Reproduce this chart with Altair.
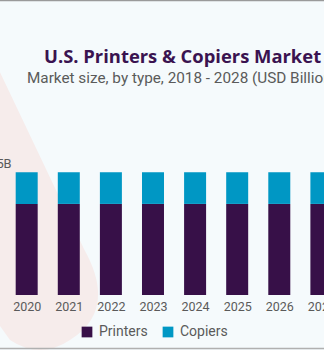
import altair as alt
import pandas as pd

# ---- data ----
YEARS = [2018, 2019, 2020, 2021, 2022, 2023, 2024, 2025, 2026, 2027, 2028]
PRINTERS = [11.4, 11.5, 11.5, 11.5, 11.5, 11.5, 11.5, 11.5, 11.5, 11.5, 11.6]
COPIERS = [4.0, 4.0, 4.0, 4.0, 4.0, 4.0, 4.0, 4.0, 4.0, 4.0, 4.0]
SERIES = ["Printers", "Copiers"]
LABEL_YEAR = [2019]
LABEL_TOTAL = [15.5]
LABEL_TEXT = ["$15.5B"]
TITLE = ["U.S. Printers & Copiers Market"]
SUBTITLE = ["Market size, by type, 2018 - 2028 (USD Billion)"]

# ---- styles ----
BG = "#F5FAFC"
PINK = "#F6ECEB"
PURPLE = "#371048"
BLUE = "#0097C4"
GREY = "#5a5a5a"
FONT = "Roboto"

PAD_TOP = 97
PAD_BOTTOM = 55
W = 324
H = 350 - PAD_TOP - PAD_BOTTOM

rows = []
for i, y in enumerate(YEARS):
    rows.append({"year": y, "type": SERIES[0], "value": PRINTERS[i], "ord": 0})
    rows.append({"year": y, "type": SERIES[1], "value": COPIERS[i], "ord": 1})
bars_df = pd.DataFrame(rows)
label_df = pd.DataFrame({"year": LABEL_YEAR, "total": LABEL_TOTAL, "text": LABEL_TEXT})
title_df = pd.DataFrame({"t": TITLE})
sub_df = pd.DataFrame({"t": SUBTITLE})
one = pd.DataFrame({"k": [0]})

xscale = alt.Scale(domain=[2019.366, 2027.062], nice=False, zero=False, padding=0)
yscale = alt.Scale(domain=[0, 25], nice=False)

SHAPE = "M -0.7 -1.81 L 0.44 0.59 Q 0.78 1.2 0.3 1.5 Q 0 1.7 -0.3 1.5 L -0.8 0.8 Z"
deco = alt.Chart(one).mark_point(
    shape=SHAPE, size=40000, filled=True, color=PINK, opacity=1, strokeWidth=0
).encode(x=alt.value(40), y=alt.value(190 - PAD_TOP))

bars = alt.Chart(bars_df).mark_bar(size=22).encode(
    x=alt.X("year:Q", scale=xscale,
            axis=alt.Axis(values=YEARS, format="d", title=None, ticks=False, domain=False,
                          grid=False, labelFlush=False, labelOverlap=False, labelBound=False,
                          labelFontSize=12.5, labelColor=GREY, labelFont=FONT, labelPadding=5,
                          zindex=1)),
    y=alt.Y("value:Q", stack="zero", scale=yscale, axis=None),
    color=alt.Color("type:N", scale=alt.Scale(domain=SERIES, range=[PURPLE, BLUE]),
                    legend=alt.Legend(orient="none", legendX=80, legendY=228,
                                      direction="horizontal", title=None, symbolType="square",
                                      symbolSize=115, labelFontSize=14, labelColor=GREY,
                                      labelFont=FONT, columnPadding=13, padding=0,
                                      labelOffset=5, symbolStrokeWidth=0)),
    order=alt.Order("ord:Q"),
)

label = alt.Chart(label_df).mark_text(
    align="right", baseline="alphabetic", dx=27, dy=-4, fontSize=12.8, color=GREY, font=FONT
).encode(x=alt.X("year:Q", scale=xscale), y=alt.Y("total:Q", scale=yscale), text="text:N")

title = alt.Chart(title_df).mark_text(
    align="left", baseline="alphabetic", fontSize=18.4, fontWeight="bold", color="#3A1350",
    font="Open Sans"
).encode(x=alt.value(44), y=alt.value(63 - PAD_TOP), text="t:N")

subtitle = alt.Chart(sub_df).mark_text(
    align="left", baseline="alphabetic", fontSize=15.3, color=GREY, font=FONT
).encode(x=alt.value(27), y=alt.value(83 - PAD_TOP), text="t:N")

top_rule = alt.Chart(one).mark_rule(color="#9a9a9a", strokeWidth=1.5).encode(
    x=alt.value(0), x2=alt.value(W), y=alt.value(0.5 - PAD_TOP))
bottom_rule = alt.Chart(one).mark_rule(color="#b0b0b0", strokeWidth=1.5).encode(
    x=alt.value(0), x2=alt.value(W), y=alt.value(348.5 - PAD_TOP))

chart = alt.layer(deco, bars, label, title, subtitle, top_rule, bottom_rule).properties(
    width=W, height=H,
    padding={"left": 0, "right": 0, "top": PAD_TOP, "bottom": PAD_BOTTOM},
    autosize=alt.AutoSizeParams(type="none"),
    background=BG,
).configure_view(stroke=None)

chart.save("out.html", embed_options={"renderer": "svg", "actions": False})
